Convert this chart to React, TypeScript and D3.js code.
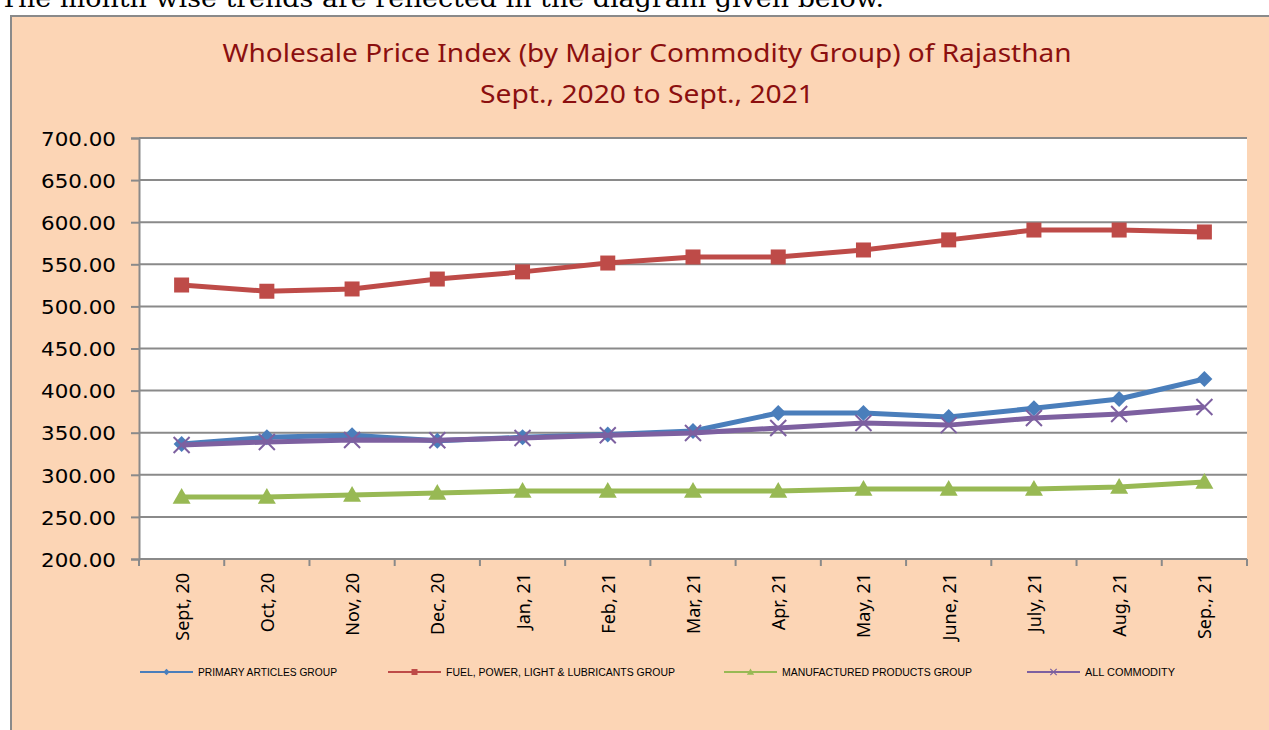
import { useEffect, useRef } from 'react';
import * as d3 from 'd3';

const months = [
  'Sept, 20', 'Oct, 20', 'Nov, 20', 'Dec, 20', 'Jan, 21', 'Feb, 21', 'Mar, 21',
  'Apr, 21', 'May, 21', 'June, 21', 'July, 21', 'Aug, 21', 'Sep., 21',
];
const primary = [336.6, 344.5, 347.0, 340.5, 344.5, 348.0, 352.0, 373.4, 373.4, 368.6, 379.0, 390.0, 413.8];
const fuel = [525.4, 518.0, 520.7, 532.5, 541.0, 551.5, 558.7, 558.7, 567.0, 579.0, 590.7, 590.7, 588.4];
const manufactured = [273.6, 273.6, 276.0, 278.4, 280.8, 280.8, 280.8, 280.8, 283.0, 283.0, 283.0, 285.5, 291.5];
const allCommodity = [335.4, 339.0, 341.3, 341.0, 343.7, 347.0, 349.6, 355.6, 361.5, 359.0, 367.5, 372.2, 380.5];
const yTicks = [200, 250, 300, 350, 400, 450, 500, 550, 600, 650, 700];

interface Series {
  name: string;
  values: number[];
  color: string;
  marker: 'diamond' | 'square' | 'triangle' | 'x';
}

const series: Series[] = [
  { name: 'PRIMARY ARTICLES GROUP', values: primary, color: '#4a7ebb', marker: 'diamond' },
  { name: 'FUEL, POWER, LIGHT & LUBRICANTS GROUP', values: fuel, color: '#be4b48', marker: 'square' },
  { name: 'MANUFACTURED PRODUCTS GROUP', values: manufactured, color: '#98b954', marker: 'triangle' },
  { name: 'ALL COMMODITY', values: allCommodity, color: '#7d60a0', marker: 'x' },
];

// legend positions (line start, text width)
const legendX = [140, 388, 724, 1027];
const legendTextW = [139, 229, 190, 90];

const App: React.FC = () => {
  const svgRef = useRef<SVGSVGElement | null>(null);

  useEffect(() => {
    if (svgRef.current === null) return;
    const svg = d3.select(svgRef.current);
    svg.selectAll('*').remove();

    const W = 1269;
    const H = 730;
    const plot = { left: 139, right: 1247, top: 138, bottom: 559 };

    // sayfa metni
    svg
      .append('text')
      .attr('x', 0)
      .attr('y', 7)
      .attr('font-family', 'DejaVu Serif')
      .attr('font-size', 25)
      .attr('textLength', 884)
      .attr('lengthAdjust', 'spacingAndGlyphs')
      .attr('fill', '#000')
      .text('The month wise trends are reflected in the diagram given below.');

    // chart area arka planı
    svg
      .append('rect')
      .attr('x', 11)
      .attr('y', 16)
      .attr('width', W)
      .attr('height', H)
      .attr('fill', '#fcd5b5')
      .attr('stroke', '#8a8a8a')
      .attr('stroke-width', 2);

    // başlık
    const title = svg
      .append('g')
      .attr('font-family', 'Noto Sans')
      .attr('fill', '#8b0f0f')
      .attr('text-anchor', 'middle');
    title
      .append('text')
      .attr('x', 647)
      .attr('y', 62)
      .attr('font-size', 25)
      .attr('textLength', 849)
      .attr('lengthAdjust', 'spacingAndGlyphs')
      .text('Wholesale Price Index (by Major Commodity Group) of Rajasthan');
    title
      .append('text')
      .attr('x', 647)
      .attr('y', 103)
      .attr('font-size', 25)
      .attr('textLength', 334)
      .attr('lengthAdjust', 'spacingAndGlyphs')
      .text('Sept., 2020 to Sept., 2021');

    // plot alanı
    svg
      .append('rect')
      .attr('x', plot.left)
      .attr('y', plot.top)
      .attr('width', plot.right - plot.left)
      .attr('height', plot.bottom - plot.top)
      .attr('fill', '#fff');

    const x = d3
      .scaleBand<string>()
      .domain(months)
      .range([plot.left, plot.right])
      .padding(0);
    const y = d3.scaleLinear().domain([200, 700]).range([plot.bottom, plot.top]);
    const cx = (i: number) => x(months[i])! + x.bandwidth() / 2;

    // yatay grid çizgileri
    svg
      .selectAll('.grid')
      .data(yTicks.filter((t) => t > 200))
      .enter()
      .append('line')
      .attr('class', 'grid')
      .attr('x1', plot.left)
      .attr('x2', plot.right)
      .attr('y1', (d) => y(d))
      .attr('y2', (d) => y(d))
      .attr('stroke', '#8a8a8a')
      .attr('stroke-width', 2);

    // Y ekseni
    const yAxis = svg
      .append('g')
      .attr('transform', `translate(${plot.left},0)`)
      .call(
        d3
          .axisLeft(y)
          .tickValues(yTicks)
          .tickSize(8)
          .tickPadding(15)
          .tickFormat((d) => d3.format('.2f')(d as number))
      );
    yAxis.select('.domain').attr('stroke', '#8a8a8a').attr('stroke-width', 2);
    yAxis.selectAll('.tick line').attr('stroke', '#8a8a8a').attr('stroke-width', 2);
    yAxis
      .selectAll('.tick text')
      .attr('font-family', 'DejaVu Sans')
      .attr('font-size', 20)
      .attr('textLength', 75)
      .attr('lengthAdjust', 'spacingAndGlyphs')
      .attr('dy', '0.36em')
      .attr('fill', '#000');

    // X ekseni
    const xAxis = svg
      .append('g')
      .attr('transform', `translate(0,${plot.bottom})`);
    xAxis
      .append('line')
      .attr('x1', plot.left)
      .attr('x2', plot.right)
      .attr('stroke', '#8a8a8a')
      .attr('stroke-width', 2);
    xAxis
      .selectAll('.xtick')
      .data(d3.range(months.length + 1))
      .enter()
      .append('line')
      .attr('class', 'xtick')
      .attr('x1', (i) => plot.left + i * x.bandwidth())
      .attr('x2', (i) => plot.left + i * x.bandwidth())
      .attr('y1', 0)
      .attr('y2', 7)
      .attr('stroke', '#8a8a8a')
      .attr('stroke-width', 2);
    xAxis
      .selectAll('.xlabel')
      .data(months)
      .enter()
      .append('text')
      .attr('class', 'xlabel')
      .attr('transform', (d) => `translate(${x(d)! + x.bandwidth() / 2 + 7},14) rotate(-90)`)
      .attr('text-anchor', 'end')
      .attr('font-family', 'Noto Sans')
      .attr('font-size', 18)
      .attr('fill', '#000')
      .text((d) => d);

    // çizgiler
    const line = d3
      .line<number>()
      .x((_, i) => cx(i))
      .y((d) => y(d));

    const drawMarker = (
      g: d3.Selection<SVGGElement, unknown, null, undefined>,
      s: Series,
      px: number,
      py: number,
      scale: number
    ) => {
      if (s.marker === 'diamond') {
        const r = 8 * scale;
        g.append('path')
          .attr('d', `M${px},${py - r}L${px + r},${py}L${px},${py + r}L${px - r},${py}Z`)
          .attr('fill', s.color);
      } else if (s.marker === 'square') {
        const r = 7.5 * scale;
        g.append('rect')
          .attr('x', px - r)
          .attr('y', py - r)
          .attr('width', 2 * r)
          .attr('height', 2 * r)
          .attr('fill', s.color);
      } else if (s.marker === 'triangle') {
        const r = 9 * scale;
        g.append('path')
          .attr('d', `M${px},${py - r}L${px + r},${py + r * 0.75}L${px - r},${py + r * 0.75}Z`)
          .attr('fill', s.color);
      } else {
        const r = 8 * scale;
        g.append('path')
          .attr('d', `M${px - r},${py - r}L${px + r},${py + r}M${px - r},${py + r}L${px + r},${py - r}`)
          .attr('stroke', s.color)
          .attr('stroke-width', 2 * Math.max(scale, 0.6));
      }
    };

    series.forEach((s) => {
      const g = svg.append('g');
      g.append('path')
        .datum(s.values)
        .attr('d', line)
        .attr('fill', 'none')
        .attr('stroke', s.color)
        .attr('stroke-width', 5)
        .attr('stroke-linejoin', 'round');
      s.values.forEach((v, i) => drawMarker(g, s, cx(i), y(v), 1));
    });

    // legend
    const legend = svg.append('g');
    series.forEach((s, i) => {
      const lx = legendX[i];
      const ly = 672;
      const g = legend.append('g');
      g.append('line')
        .attr('x1', lx)
        .attr('x2', lx + 53)
        .attr('y1', ly)
        .attr('y2', ly)
        .attr('stroke', s.color)
        .attr('stroke-width', 2);
      drawMarker(g, s, lx + 26.5, ly, 0.4);
      g.append('text')
        .attr('x', lx + 58)
        .attr('y', ly + 3.5)
        .attr('font-family', 'Liberation Sans')
        .attr('font-size', 10)
        .attr('textLength', legendTextW[i])
        .attr('lengthAdjust', 'spacingAndGlyphs')
        .attr('fill', '#000')
        .text(s.name);
    });
  }, []);

  return (
    <svg
      ref={svgRef}
      width={1269}
      height={730}
      style={{ position: 'absolute', left: 0, top: 0, display: 'block' }}
    ></svg>
  );
};

export default App;
